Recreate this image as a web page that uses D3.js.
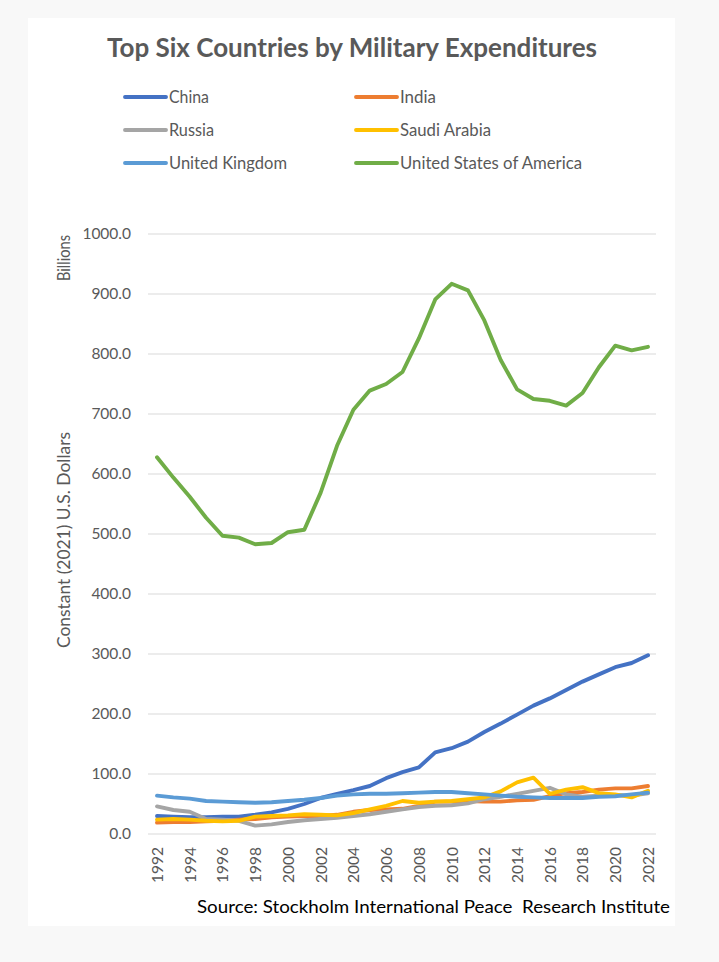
<!DOCTYPE html>
<html>
<head>
<meta charset="utf-8">
<script src="https://cdn.jsdelivr.net/npm/d3@7"></script>
<style>
  html, body { margin: 0; padding: 0; background: #f8f8f8; }
  svg { display: block; }
</style>
</head>
<body>
<script>
// ---------------- DATA ----------------
const years = [1992,1993,1994,1995,1996,1997,1998,1999,2000,2001,2002,2003,2004,2005,2006,2007,2008,2009,2010,2011,2012,2013,2014,2015,2016,2017,2018,2019,2020,2021,2022];
const xTickYears = [1992,1994,1996,1998,2000,2002,2004,2006,2008,2010,2012,2014,2016,2018,2020,2022];
const yTicks = [0,100,200,300,400,500,600,700,800,900,1000];

const seriesNames = ["China","India","Russia","Saudi Arabia","United Kingdom","United States of America"];
const seriesColors = ["#4472C4","#ED7D31","#A5A5A5","#FFC000","#5B9BD5","#70AD47"];

const china  = [30,29,28,28,29,29,32,36,42,50,60,67,73,80,93,103,111,136,143,154,170,184,199,214,226,240,254,266,278,285,298];
const india  = [19,20,20,21,22,24,25,28,29,30,30,32,37,40,41,42,47,54,54,55,54,54,56,57,63,68,70,74,76,76,80];
const russia = [46,40,37,25,24,22,14,16,20,23,25,27,30,33,37,41,45,47,48,51,58,62,67,72,77,66,62,64,65,64,68];
const saudi  = [24,25,24,22,21,22,29,30,31,33,32,31,35,41,47,55,52,54,55,58,61,71,86,94,67,74,78,68,66,61,72];
const uk     = [64,61,59,55,54,53,52,53,55,57,60,64,66,67,67,68,69,70,70,68,66,64,62,61,60,60,60,62,63,66,69];
const usa    = [628,594,562,527,497,494,483,485,503,507,569,647,707,739,750,770,826,891,917,906,856,790,741,725,722,714,735,778,814,806,812];

const seriesValues = [china, india, russia, saudi, uk, usa];

// ---------------- CHART ----------------
const W = 719, H = 962;
const svg = d3.select("body").append("svg").attr("width", W).attr("height", H);
const font = "Lato, 'Open Sans', sans-serif";
const textCol = "#595959";

// card
svg.append("rect").attr("x", 28).attr("y", 18).attr("width", 647).attr("height", 908).attr("fill", "#ffffff");

const x = d3.scaleLinear().domain([1992, 2022]).range([157, 648]);
const y = d3.scaleLinear().domain([0, 1000]).range([834, 234]);

// gridlines
svg.append("g").selectAll("line").data(yTicks).join("line")
  .attr("x1", 148).attr("x2", 656)
  .attr("y1", d => y(d)).attr("y2", d => y(d))
  .attr("stroke", "#d9d9d9").attr("stroke-width", 1.2);

// y axis labels
const yAxis = d3.axisLeft(y).tickValues(yTicks).tickFormat(d3.format(".1f")).tickSize(0).tickPadding(0);
const gy = svg.append("g").attr("transform", "translate(131,0)").call(yAxis);
gy.select(".domain").remove();
gy.selectAll("text").attr("font-family", font).attr("font-size", 15.5).attr("fill", textCol);

// x axis labels (rotated)
const xAxis = d3.axisBottom(x).tickValues(xTickYears).tickFormat(d3.format("d")).tickSize(0);
const gx = svg.append("g").attr("transform", "translate(0,834)").call(xAxis);
gx.select(".domain").remove();
gx.selectAll("text")
  .attr("font-family", font).attr("font-size", 15.5).attr("fill", textCol)
  .attr("transform", "rotate(-90)")
  .attr("text-anchor", "end")
  .attr("x", -13).attr("y", 0).attr("dy", "0.35em");

// axis titles
svg.append("text").attr("transform", "translate(70,540) rotate(-90)")
  .attr("text-anchor", "middle").attr("font-family", font).attr("font-size", 18).attr("fill", textCol)
  .attr("textLength", 216).attr("lengthAdjust", "spacingAndGlyphs")
  .text("Constant (2021) U.S. Dollars");
svg.append("text").attr("transform", "translate(70,258) rotate(-90)")
  .attr("text-anchor", "middle").attr("font-family", font).attr("font-size", 18).attr("fill", textCol)
  .attr("textLength", 46).attr("lengthAdjust", "spacingAndGlyphs")
  .text("Billions");

// lines
const line = d3.line().x((d, i) => x(years[i])).y(d => y(d));
svg.append("g").selectAll("path").data(seriesValues).join("path")
  .attr("d", d => line(d))
  .attr("fill", "none")
  .attr("stroke", (d, i) => seriesColors[i])
  .attr("stroke-width", 3.9)
  .attr("stroke-linejoin", "round")
  .attr("stroke-linecap", "round");

// title
svg.append("text").attr("x", 352).attr("y", 57).attr("text-anchor", "middle")
  .attr("font-family", font).attr("font-weight", "bold").attr("font-size", 26).attr("fill", textCol)
  .attr("textLength", 490).attr("lengthAdjust", "spacingAndGlyphs")
  .text("Top Six Countries by Military Expenditures");

// legend
const legendWidths = [40, 36, 45, 91, 118, 182];
const lg = svg.append("g").selectAll("g").data(seriesNames).join("g")
  .attr("transform", (d, i) => `translate(${i % 2 === 0 ? 125 : 356},${97 + Math.floor(i / 2) * 33})`);
lg.append("line").attr("x1", 0).attr("x2", 41).attr("y1", 0).attr("y2", 0)
  .attr("stroke", (d, i) => seriesColors[i]).attr("stroke-width", 3.9).attr("stroke-linecap", "round");
lg.append("text").attr("x", 44).attr("y", 0).attr("dy", "0.35em")
  .attr("font-family", font).attr("font-size", 17).attr("fill", textCol)
  .attr("textLength", (d, i) => legendWidths[i]).attr("lengthAdjust", "spacingAndGlyphs")
  .text(d => d);

// source
svg.append("text").attr("x", 197).attr("y", 913)
  .attr("font-family", font).attr("font-size", 17.5).attr("fill", "#000000")
  .attr("textLength", 473).attr("lengthAdjust", "spacingAndGlyphs")
  .attr("xml:space", "preserve").style("white-space", "pre")
  .text("Source: Stockholm International Peace  Research Institute");
</script>
</body>
</html>
